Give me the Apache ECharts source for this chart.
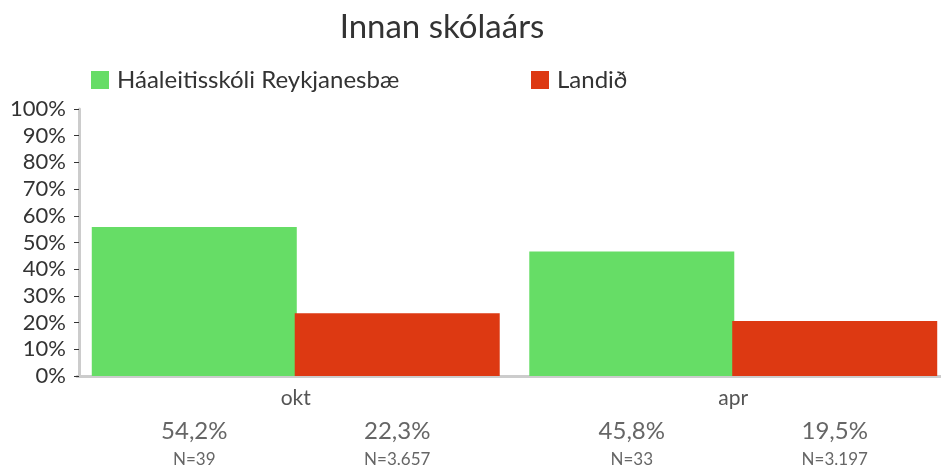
<!DOCTYPE html>
<html>
<head>
<meta charset="utf-8">
<script src="https://cdn.jsdelivr.net/npm/echarts@6/dist/echarts.min.js"></script>
<style>
  html, body { margin: 0; padding: 0; background: #fff; overflow: hidden; }
  #chart { width: 960px; height: 468px; }
</style>
</head>
<body>
<div id="chart"></div>
<script>
// gögn
var categories = ['okt', 'apr'];
var schoolName = 'Háaleitisskóli Reykjanesbæ';
var nationName = 'Landið';
var schoolBars = [55.8, 46.6];   // hæð súlna eins og hún sést
var nationBars = [23.5, 20.6];
var schoolPct = [54.2, 45.8];    // textinn undir súlunum
var nationPct = [22.3, 19.5];
var schoolN = [39, 33];
var nationN = [3657, 3197];

var font = 'Lato, "Open Sans", sans-serif';

function pctText(v) {
    return v.toFixed(1).replace('.', ',') + '%';
}
function nText(v) {
    return 'N=' + String(v).replace(/\B(?=(\d{3})+(?!\d))/g, '.');
}

function barLabel(pcts, ns) {
    return {
        show: true,
        position: 'bottom',
        distance: 40,
        formatter: function (p) {
            return '{p|' + pctText(pcts[p.dataIndex]) + '}\n{n|' + nText(ns[p.dataIndex]) + '}';
        },
        rich: {
            p: { fontFamily: font, fontSize: 24, color: '#666', lineHeight: 30 },
            n: { fontFamily: font, fontSize: 17, color: '#666', lineHeight: 27 }
        }
    };
}

var myChart = echarts.init(document.getElementById('chart'));
var option = {
    animation: false,
    title: {
        text: 'Innan skólaárs',
        left: 437,
        textAlign: 'center',
        top: 6,
        textStyle: { fontFamily: font, fontSize: 33, fontWeight: 'normal', color: '#333' }
    },
    legend: [
        {
            data: [schoolName],
            left: 86, top: 63,
            itemWidth: 18, itemHeight: 18,
            icon: 'rect',
            textStyle: { fontFamily: font, fontSize: 24, color: '#333', padding: [0, 0, 0, 3] }
        },
        {
            data: [nationName],
            left: 526, top: 63,
            itemWidth: 18, itemHeight: 18,
            icon: 'rect',
            textStyle: { fontFamily: font, fontSize: 24, color: '#333', padding: [0, 0, 0, 3] }
        }
    ],
    grid: {
        left: 77,
        top: 109,
        width: 875,
        height: 267,
        containLabel: false
    },
    xAxis: {
        type: 'category',
        data: categories,
        axisLine: { lineStyle: { color: '#ccc', width: 3 } },
        axisTick: { show: false },
        axisLabel: { fontFamily: font, fontSize: 21, color: '#555', margin: 12 }
    },
    yAxis: {
        type: 'value',
        min: 0,
        max: 100,
        interval: 10,
        offset: -2,
        splitLine: { show: false },
        axisLine: { show: true, lineStyle: { color: '#ccc', width: 3 } },
        axisTick: { show: true, length: 5, lineStyle: { color: '#333' } },
        axisLabel: { fontFamily: font, fontSize: 22, color: '#333', margin: 13, formatter: '{value}%' }
    },
    series: [
        {
            name: schoolName,
            type: 'bar',
            data: schoolBars,
            barWidth: 205,
            barGap: '-1%',
            itemStyle: { color: '#66dd66' },
            label: barLabel(schoolPct, schoolN)
        },
        {
            name: nationName,
            type: 'bar',
            data: nationBars,
            barWidth: 205,
            itemStyle: { color: '#dd3912' },
            label: barLabel(nationPct, nationN)
        }
    ]
};
myChart.setOption(option);
</script>
</body>
</html>
